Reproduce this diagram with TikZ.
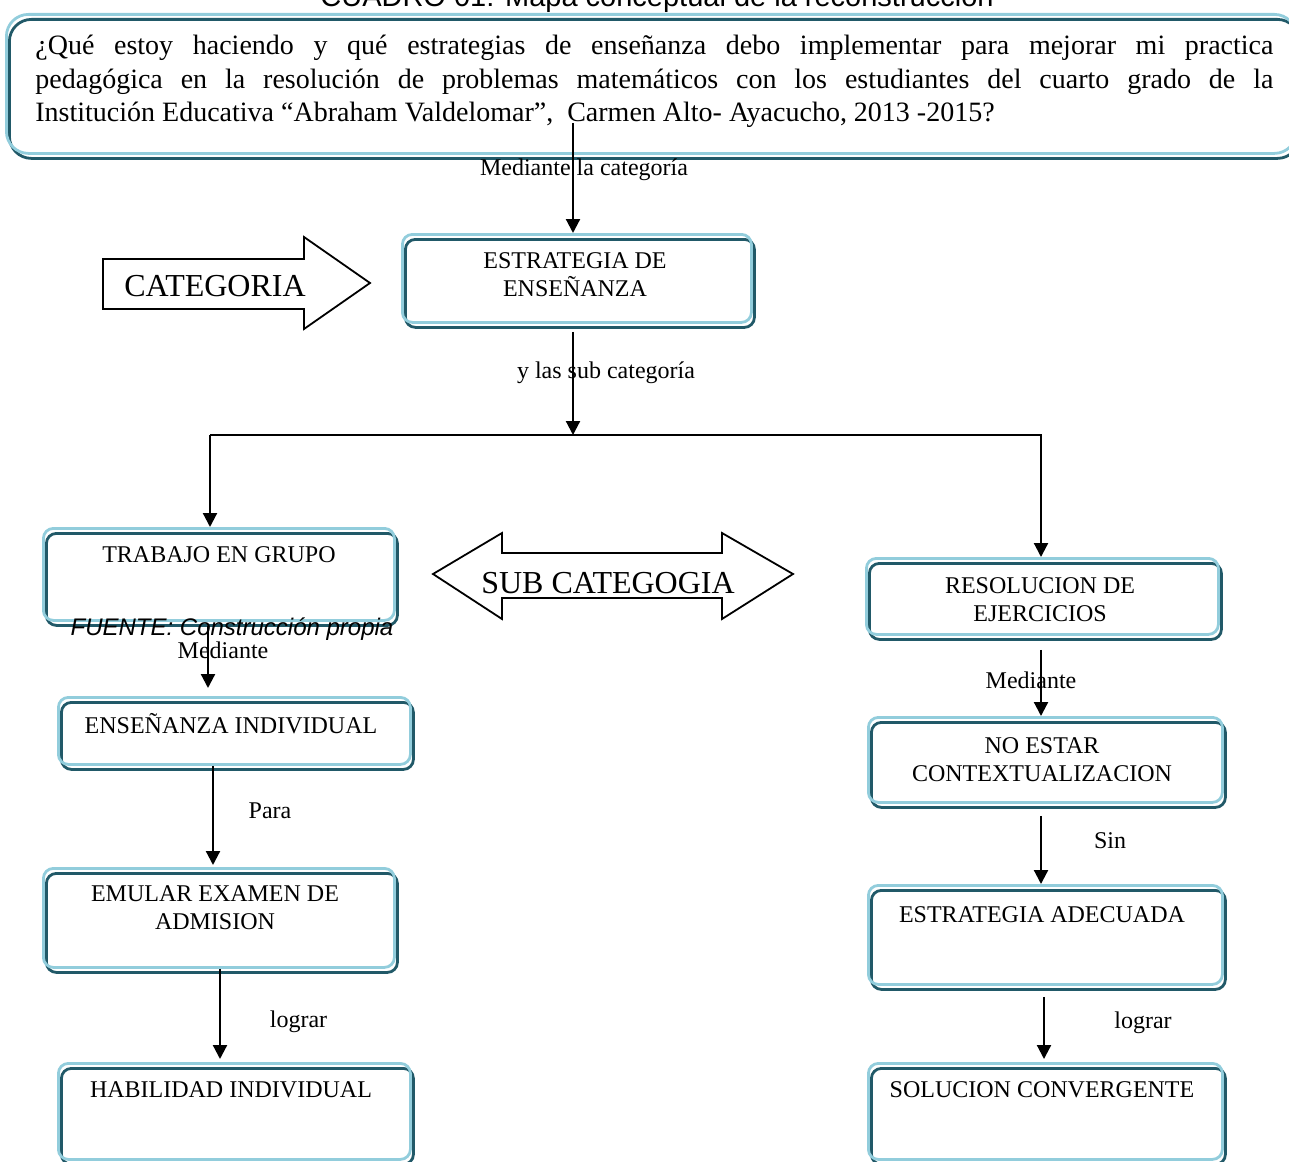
\documentclass[tikz,border=0pt]{standalone}
\usepackage{fontspec}
\setmainfont{Liberation Serif}
\setsansfont{Liberation Sans}
\usetikzlibrary{arrows.meta, shadows}

\definecolor{celeste}{RGB}{146,205,220}
\definecolor{azuloscuro}{RGB}{33,89,104}

\tikzset{
  caja/.style={draw=celeste, line width=1.4pt, rounded corners=5pt, inner sep=0pt, anchor=north west,
    general shadow={draw=azuloscuro, line width=1.4pt, shadow xshift=1.5pt, shadow yshift=-2.5pt}},
  texto/.style={font=\fontsize{12}{14}\selectfont, align=center, inner sep=0pt, anchor=base},
  etiqueta/.style={font=\fontsize{12}{14}\selectfont, inner sep=0pt, anchor=base},
  flecha/.style={line width=1.1pt, -{Triangle[width=7pt,length=7pt]}},
  bloque/.style={draw, line width=0.9pt, line join=miter},
  bloquetexto/.style={font=\fontsize{16}{19}\selectfont, inner sep=0pt, anchor=base}
}

\begin{document}
\begin{tikzpicture}[x=0.5pt, y=-0.5pt]
\useasboundingbox (0,0) rectangle (1289,1161);
% Title, cut at the top
\node[font=\sffamily\fontsize{14.5}{17}\selectfont, inner sep=0pt, anchor=base] (titulo) at (657,7) {CUADRO 01: Mapa conceptual de la reconstrucción};
% Question box
\node[caja, rounded corners=11pt, minimum width=645pt, minimum height=69.5pt] (pregunta) at (5,13) {};
\node[font=\fontsize{14}{16.6}\selectfont, text width=619pt, align=justify, inner sep=0pt, anchor=base west] (pregtxt) at (35,55)
  {¿Qué estoy haciendo y qué estrategias de enseñanza debo implementar para mejorar mi practica\linebreak pedagógica en la resolución de problemas matemáticos con los estudiantes del cuarto grado de la\linebreak Institución Educativa “Abraham Valdelomar”,~ Carmen Alto- Ayacucho, 2013 -2015?};

% Boxes
\node[caja, minimum width=174.5pt, minimum height=44pt] (estrategia) at (401,233) {};
\node[caja, minimum width=175.5pt, minimum height=46pt] (trabajo) at (42,527) {};
\node[caja, minimum width=176pt, minimum height=33.5pt] (ensenanza) at (57,696) {};
\node[caja, minimum width=175.5pt, minimum height=49.5pt] (emular) at (42,867) {};
\node[caja, minimum width=176pt, minimum height=48pt] (habilidad) at (57,1062) {};
\node[caja, minimum width=176pt, minimum height=38pt] (resolucion) at (865,557) {};
\node[caja, minimum width=177pt, minimum height=42.5pt] (noestar) at (867,716) {};
\node[caja, minimum width=177pt, minimum height=49.5pt] (adecuada) at (867,884) {};
\node[caja, minimum width=177pt, minimum height=48pt] (solucion) at (867,1062) {};

% Box texts (two-line texts sit on their last baseline)
\node[texto] (t-estrategia) at (575,296) {ESTRATEGIA DE\\ENSEÑANZA};
\node[texto] (t-trabajo) at (219,562) {TRABAJO EN GRUPO};
\node[texto] (t-ensenanza) at (231,733) {ENSEÑANZA INDIVIDUAL};
\node[texto] (t-emular) at (215,929) {EMULAR EXAMEN DE\\ADMISION};
\node[texto] (t-habilidad) at (231,1097) {HABILIDAD INDIVIDUAL};
\node[texto] (t-resolucion) at (1040,621) {RESOLUCION DE\\EJERCICIOS};
\node[texto] (t-noestar) at (1042,781) {NO ESTAR\\CONTEXTUALIZACION};
\node[texto] (t-adecuada) at (1042,922) {ESTRATEGIA ADECUADA};
\node[texto] (t-solucion) at (1042,1097) {SOLUCION CONVERGENTE};

% Block arrows
\draw[bloque] (103,259) -- (304,259) -- (304,237) -- (370,283) -- (304,329) -- (304,309) -- (103,309) -- cycle;
\node[bloquetexto] (categoria) at (215,296) {CATEGORIA};
\draw[bloque] (433,574) -- (502,533) -- (502,553) -- (722,553) -- (722,533) -- (793,574)
  -- (722,619) -- (722,598) -- (502,598) -- (502,619) -- cycle;
\node[bloquetexto] (subcategoria) at (608,593) {SUB CATEGOGIA};

% Connectors
\coordinate (inicio) at (573,123);
\coordinate (union) at (573,435);
\coordinate (izq) at (210,435);
\coordinate (der) at (1041,435);
\draw[flecha] (inicio) -- (estrategia.north -| inicio);
\draw[flecha, shorten <=4pt] (estrategia.south -| inicio) -- (union);
\draw[flecha] (izq) -- (trabajo.north -| izq);
\draw[flecha] (izq) -- (der) -- (resolucion.north -| der);
\draw[flecha, shorten <=2pt, shorten >=4pt] (trabajo.south -| 208,0) -- (ensenanza.north -| 208,0);
\draw[flecha, shorten >=1pt] (ensenanza.south -| 213,0) -- (emular.north -| 213,0);
\draw[flecha, shorten >=1.5pt] (emular.south -| 220,0) -- (habilidad.north -| 220,0);
\draw[flecha, shorten <=7pt] (resolucion.south -| der) -- (noestar.north -| der);
\draw[flecha, shorten <=6pt] (noestar.south -| der) -- (adecuada.north -| der);
\draw[flecha, shorten <=5.5pt, shorten >=1.5pt] (adecuada.south -| 1044,0) -- (solucion.north -| 1044,0);

% Connector labels
\node[etiqueta] (l-categoria) at (584,175) {Mediante la categoría};
\node[etiqueta] (l-sub) at (606,378) {y las sub categoría};
\node[font=\sffamily\itshape\fontsize{12}{14}\selectfont, inner sep=0pt, anchor=base] (fuente) at (232,635) {FUENTE: Construcción propia};
\node[etiqueta] (l-mediante1) at (223,658) {Mediante};
\node[etiqueta] (l-para) at (270,818) {Para};
\node[etiqueta] (l-lograr1) at (298.5,1027) {lograr};
\node[etiqueta] (l-mediante2) at (1031,688) {Mediante};
\node[etiqueta] (l-sin) at (1110,848) {Sin};
\node[etiqueta] (l-lograr2) at (1143,1028) {lograr};
\end{tikzpicture}
\end{document}
